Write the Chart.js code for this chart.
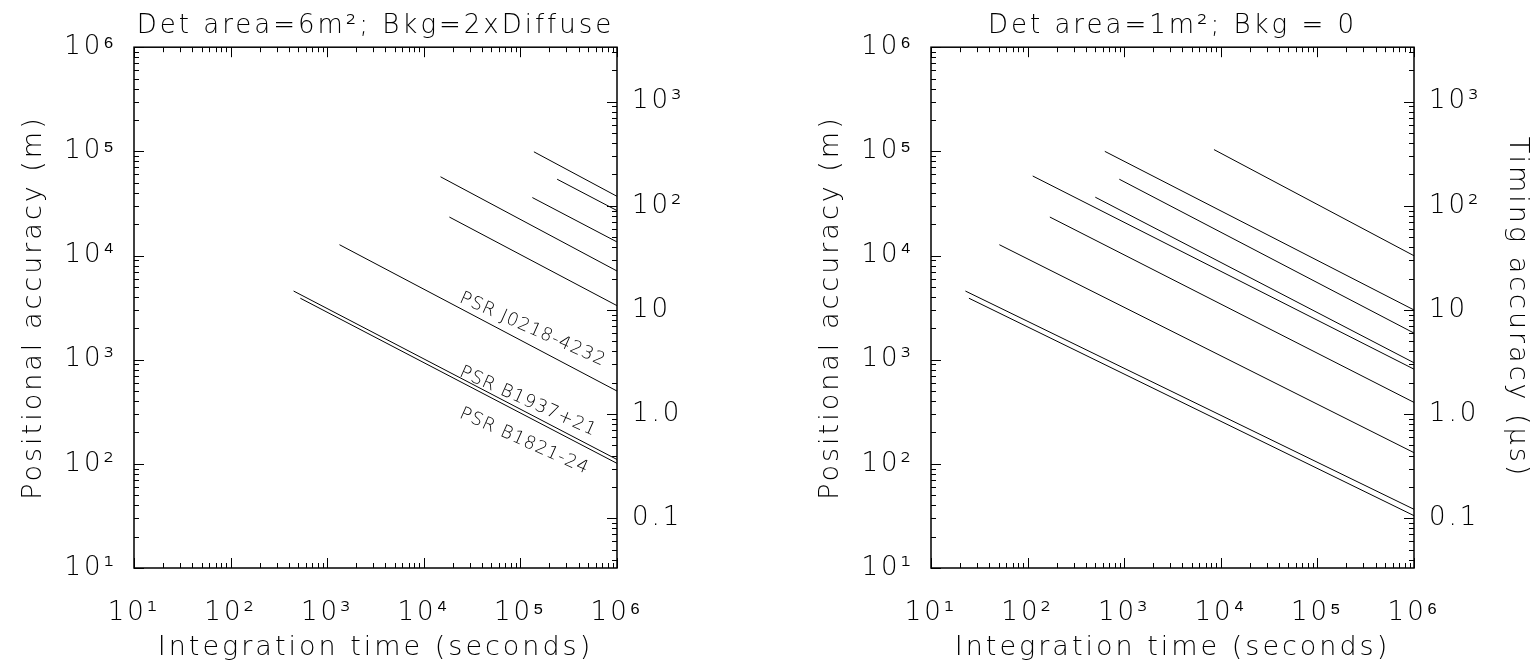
<!DOCTYPE html>
<html lang="en">
<head>
<meta charset="UTF-8">
<title>Positional and timing accuracy vs integration time</title>
<script src="https://cdn.jsdelivr.net/npm/chart.js"></script>
<style>
  body { margin: 0; background: #fff; }
  #wrap { position: relative; width: 1540px; height: 665px; }
  .panel { position: absolute; top: 0; height: 665px; }
  #leftPanel { left: 0; width: 797px; }
  #rightPanel { left: 797px; width: 743px; }
</style>
</head>
<body>
<div id="wrap">
  <div class="panel" id="leftPanel"><canvas id="leftChart"></canvas></div>
  <div class="panel" id="rightPanel"><canvas id="rightChart"></canvas></div>
</div>
<script>
  // axis ticks
  const decadeTicks = [10, 100, 1e3, 1e4, 1e5, 1e6];
  const decadeLabels = ['10¹', '10²', '10³', '10⁴', '10⁵', '10⁶'];
  const timingTicks = [0.1, 1, 10, 100, 1000];
  const timingLabels = ['0.1', '1.0', '10', '10²', '10³'];
  const metresPerMicrosec = 300;

  // left panel: det area 6 m^2, bkg 2x diffuse   [integration time (s), positional accuracy (m)]
  const left1 = [[1.38e5, 9.9e4], [1e6, 3.7e4]];
  const left2 = [[2.4e5, 5.4e4], [1e6, 2.7e4]];
  const left3 = [[1.33e5, 3.6e4], [1e6, 1.35e4]];
  const left4 = [[1.49e4, 5.7e4], [1e6, 7.1e3]];
  const left5 = [[1.84e4, 2.34e4], [1e6, 3.3e3]];
  const leftJ0218 = [[1.34e3, 1.27e4], [1e6, 500]];
  const leftB1937 = [[449, 4560], [1e6, 110]];
  const leftB1821 = [[527, 3890], [1e6, 101]];

  // right panel: det area 1 m^2, no background
  const right1 = [[8.5e3, 1.04e5], [1e6, 9.95e3]];
  const right2 = [[630, 1e5], [1e6, 3.0e3]];
  const right3 = [[890, 5.4e4], [1e6, 1.8e3]];
  const right4 = [[113, 5.8e4], [1e6, 811]];
  const right5 = [[502, 3.63e4], [1e6, 934]];
  const right6 = [[170, 2.34e4], [1e6, 389]];
  const right7 = [[51, 1.27e4], [1e6, 128]];
  const right8 = [[22.7, 4560], [1e6, 36.6]];
  const right9 = [[24.7, 3890], [1e6, 31.8]];

  // pulsar names written along the left panel curves (baseline start, data units)
  const psrNames = ['PSR J0218-4232', 'PSR B1937+21', 'PSR B1821-24'];
  const psrNameT = [2.29e4, 2.29e4, 2.29e4];
  const psrNamePos = [3.6e3, 700, 280];

  const FONT = "'DejaVu Sans', 'Liberation Sans', sans-serif";
  const INK = '#000';
  Chart.defaults.font.family = FONT;
  Chart.defaults.font.weight = 200;
  Chart.defaults.color = INK;

  function logTicks(min, max) {
    const out = [];
    for (let e = Math.floor(Math.log10(min)); e <= Math.ceil(Math.log10(max)); e++) {
      for (let m = 1; m < 10; m++) {
        const v = m * Math.pow(10, e);
        if (v >= min * 0.999 && v <= max * 1.001) out.push([v, m === 1]);
      }
    }
    return out;
  }

  // box + inward ticks (IDL style) + curve names
  const frame = {
    id: 'frame',
    beforeDraw(chart) {
      chart.ctx.letterSpacing = '3px';
    },
    afterDraw(chart) {
      const {ctx, chartArea: a, scales} = chart;
      ctx.save();
      ctx.strokeStyle = '#000';
      ctx.lineWidth = 1.5;
      ctx.strokeRect(a.left, a.top, a.right - a.left, a.bottom - a.top);
      ctx.lineWidth = 1;
      ctx.beginPath();
      logTicks(scales.x.min, scales.x.max).forEach(([v, major]) => {
        const px = Math.round(scales.x.getPixelForValue(v)) + 0.5;
        const len = major ? 10 : 5;
        ctx.moveTo(px, a.bottom); ctx.lineTo(px, a.bottom - len);
        ctx.moveTo(px, a.top); ctx.lineTo(px, a.top + len);
      });
      logTicks(scales.y.min, scales.y.max).forEach(([v, major]) => {
        const py = Math.round(scales.y.getPixelForValue(v)) + 0.5;
        ctx.moveTo(a.left, py); ctx.lineTo(a.left + (major ? 10 : 5), py);
      });
      logTicks(scales.y2.min, scales.y2.max).forEach(([v, major]) => {
        const py = Math.round(scales.y2.getPixelForValue(v)) + 0.5;
        ctx.moveTo(a.right, py); ctx.lineTo(a.right - (major ? 10 : 5), py);
      });
      ctx.stroke();

      const names = chart.options.plugins.frame.names;
      if (names) {
        ctx.fillStyle = INK;
        ctx.font = '200 18px ' + FONT;
        ctx.letterSpacing = '1px';
        ctx.textBaseline = 'alphabetic';
        ctx.textAlign = 'left';
        names.text.forEach((txt, i) => {
          ctx.save();
          ctx.translate(scales.x.getPixelForValue(names.t[i]), scales.y.getPixelForValue(names.pos[i]));
          ctx.rotate(24 * Math.PI / 180);
          ctx.fillText(txt, 0, 0);
          ctx.restore();
        });
      }
      ctx.restore();
    }
  };

  function toDataset(series) {
    return {
      data: series.map(([t, p]) => ({x: t, y: p})),
      borderColor: '#000',
      borderWidth: 1,
      pointRadius: 0,
      tension: 0,
      fill: false
    };
  }

  function panelOptions(title, rightWidth, timingTitle, names) {
    const tickFont = {size: 26, weight: 200};
    return {
      responsive: true,
      maintainAspectRatio: false,
      animation: false,
      events: [],
      layout: {padding: 0},
      plugins: {
        legend: {display: false},
        tooltip: {enabled: false},
        title: {
          display: true, text: title, fullSize: false,
          font: {size: 26, weight: 200}, color: INK,
          padding: {top: 11, bottom: 5}
        },
        frame: {names: names}
      },
      scales: {
        x: {
          type: 'logarithmic', min: 10, max: 1e6,
          afterBuildTicks: s => { s.ticks = decadeTicks.map(v => ({value: v})); },
          afterFit: s => { s.height = 97; },
          ticks: {callback: (v, i) => decadeLabels[i], autoSkip: false, maxRotation: 0, padding: 22, font: tickFont},
          grid: {display: false}, border: {display: false},
          title: {display: true, text: 'Integration time (seconds)', font: {size: 27, weight: 200}, padding: {top: 0, bottom: 1}}
        },
        y: {
          type: 'logarithmic', position: 'left', min: 10, max: 1e6,
          afterBuildTicks: s => { s.ticks = decadeTicks.map(v => ({value: v})); },
          afterFit: s => { s.width = 134; },
          ticks: {callback: (v, i) => decadeLabels[i], autoSkip: false, padding: 9, font: tickFont},
          grid: {display: false}, border: {display: false},
          title: {display: true, text: 'Positional accuracy (m)', font: {size: 27, weight: 200}, padding: {top: 18}}
        },
        y2: {
          type: 'logarithmic', position: 'right',
          min: 10 / metresPerMicrosec, max: 1e6 / metresPerMicrosec,
          afterBuildTicks: s => { s.ticks = timingTicks.map(v => ({value: v})); },
          afterFit: s => { s.width = rightWidth; },
          ticks: {callback: (v, i) => timingLabels[i], autoSkip: false, padding: 7, font: tickFont},
          grid: {display: false}, border: {display: false},
          title: {display: !!timingTitle, text: timingTitle || '', font: {size: 27, weight: 200}, padding: {top: 7}}
        }
      }
    };
  }

  new Chart(document.getElementById('leftChart'), {
    type: 'line',
    data: {
      datasets: [left1, left2, left3, left4, left5, leftJ0218, leftB1937, leftB1821].map(toDataset)
    },
    options: panelOptions('Det area=6m²; Bkg=2xDiffuse', 180, null,
      {text: psrNames, t: psrNameT, pos: psrNamePos}),
    plugins: [frame]
  });

  new Chart(document.getElementById('rightChart'), {
    type: 'line',
    data: {
      datasets: [right1, right2, right3, right4, right5, right6, right7, right8, right9].map(toDataset)
    },
    options: panelOptions('Det area=1m²; Bkg = 0', 126, 'Timing accuracy (μs)', null),
    plugins: [frame]
  });
</script>
</body>
</html>
